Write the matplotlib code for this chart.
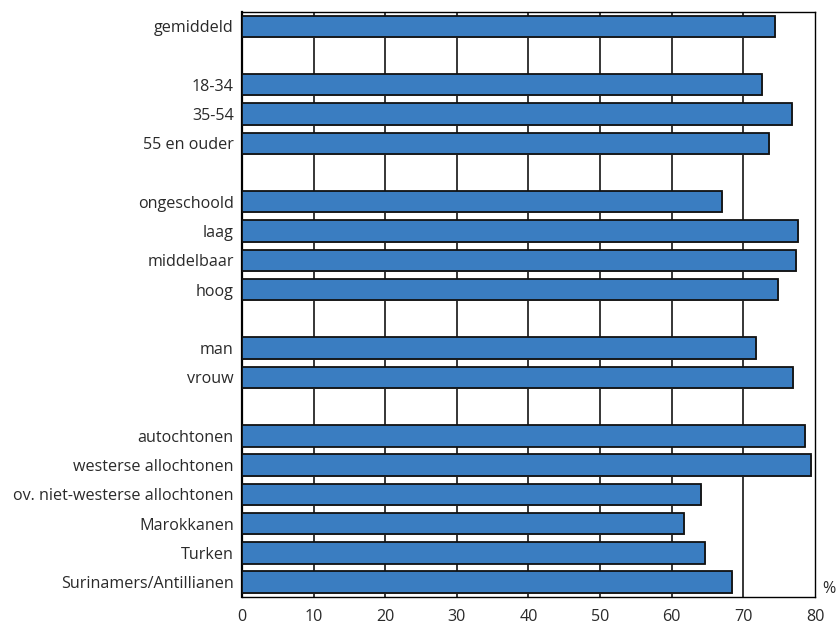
import matplotlib.pyplot as plt
import numpy as np

plt.rcParams['font.family'] = ['Open Sans', 'DejaVu Sans']

# groups of categories, a blank row between groups
groups = [
    ["gemiddeld"],
    ["18-34", "35-54", "55 en ouder"],
    ["ongeschoold", "laag", "middelbaar", "hoog"],
    ["man", "vrouw"],
    ["autochtonen", "westerse allochtonen", "ov. niet-westerse allochtonen",
     "Marokkanen", "Turken", "Surinamers/Antillianen"],
]
values = [
    [74.4],
    [72.6, 76.8, 73.6],
    [67.0, 77.6, 77.3, 74.8],
    [71.8, 76.9],
    [78.6, 79.4, 64.1, 61.7, 64.6, 68.4],
]
xticks = [0, 10, 20, 30, 40, 50, 60, 70, 80]

labels, vals, pos = [], [], []
p = 0
for g, v in zip(groups, values):
    for name, val in zip(g, v):
        labels.append(name)
        vals.append(val)
        pos.append(p)
        p += 1
    p += 1
nrows = p - 1

fig = plt.figure(figsize=(8.39, 6.28), dpi=100)
ax = fig.add_axes([0.2884, 0.0498, 0.6830, 0.9316])

for x in xticks[1:-1]:
    ax.axvline(x, color='black', lw=1.1, zorder=1)

# soft shadow then bars
ax.barh(np.array(pos) + 0.03, vals, height=0.73, left=0.15, color='#9a9a9a',
        edgecolor='none', zorder=2)
ax.barh(pos, vals, height=0.73, color='#3a7dc1', edgecolor='#111111',
        linewidth=1.3, zorder=3)

ax.set_xlim(0, 80)
ax.set_ylim(nrows - 0.5, -0.5)
ax.set_xticks(xticks)
ax.set_yticks(pos)
ax.set_yticklabels(labels)
ax.tick_params(length=0, labelsize=11.6, colors='#2a2a2a')
ax.tick_params(axis='x', pad=9)
ax.tick_params(axis='y', pad=6)
for s in ax.spines.values():
    s.set_linewidth(1.0)
    s.set_color('black')
ax.spines['left'].set_linewidth(1.6)

ax.text(1.012, 0.0, '%', transform=ax.transAxes, fontsize=11.6,
        color='#2a2a2a', ha='left', va='bottom')

fig.savefig('out.png', dpi=100)
